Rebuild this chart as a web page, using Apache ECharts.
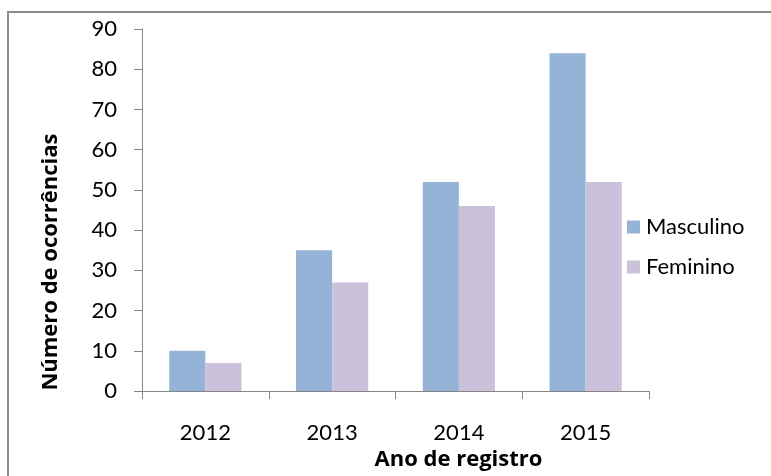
<!DOCTYPE html>
<html>
<head>
<meta charset="utf-8">
<script src="https://cdn.jsdelivr.net/npm/echarts@6/dist/echarts.min.js"></script>
<style>
  html, body { margin: 0; padding: 0; background: #fff; }
  #chart { width: 771px; height: 476px; }
</style>
</head>
<body>
<div id="chart"></div>
<script>
// Ocorrências registradas por ano, separadas por sexo
const anos = ['2012', '2013', '2014', '2015'];
const masculino = [10, 35, 52, 84];
const feminino = [7, 27, 46, 52];
const yTicks = { min: 0, max: 90, interval: 10 };

const fonte = 'Lato, "Open Sans", "Liberation Sans", sans-serif';
const fonteTitulo = '"Open Sans", Lato, "Liberation Sans", sans-serif';
const cinza = '#868686';

const chart = echarts.init(document.getElementById('chart'), null, { renderer: 'canvas' });

chart.setOption({
  animation: false,
  backgroundColor: '#fff',
  textStyle: { fontFamily: fonte, color: '#000' },
  graphic: [{
    type: 'rect',
    shape: { x: 8, y: 12, width: 900, height: 600 },
    style: { fill: 'none', stroke: '#8c8c8c', lineWidth: 2 },
    silent: true
  }],
  grid: { left: 142, top: 29, right: 122, bottom: 79, containLabel: false },
  legend: {
    orient: 'vertical',
    left: 622,
    top: 211,
    itemWidth: 13,
    itemHeight: 13,
    itemGap: 18,
    icon: 'rect',
    textStyle: { fontFamily: fonte, fontSize: 22, color: '#000', padding: [0, 0, 0, 1] },
    data: ['Masculino', 'Feminino']
  },
  xAxis: {
    type: 'category',
    data: anos,
    name: 'Ano de registro',
    nameLocation: 'middle',
    nameGap: 52,
    nameTextStyle: { fontFamily: fonteTitulo, fontSize: 22, fontWeight: 'bold', color: '#000', padding: [0, 0, 0, 126] },
    axisLine: { lineStyle: { color: cinza, width: 1 } },
    axisTick: { show: true, length: 8, lineStyle: { color: cinza } },
    axisLabel: { fontFamily: fonte, fontSize: 22, color: '#000', margin: 31 }
  },
  yAxis: {
    type: 'value',
    min: yTicks.min,
    max: yTicks.max,
    interval: yTicks.interval,
    name: 'Número de ocorrências',
    nameLocation: 'middle',
    nameGap: 80,
    nameTextStyle: { fontFamily: fonteTitulo, fontSize: 22, fontWeight: 'bold', color: '#000', padding: [0, 104, 0, 0] },
    axisLine: { show: true, lineStyle: { color: cinza, width: 1 } },
    axisTick: { show: true, length: 8, lineStyle: { color: cinza } },
    axisLabel: { fontFamily: fonte, fontSize: 22, color: '#000', margin: 25 },
    splitLine: { show: false }
  },
  series: [
    {
      name: 'Masculino',
      type: 'bar',
      data: masculino,
      barGap: '0%',
      barCategoryGap: '43%',
      itemStyle: { color: '#95B3D7' }
    },
    {
      name: 'Feminino',
      type: 'bar',
      data: feminino,
      barGap: '0%',
      barCategoryGap: '43%',
      itemStyle: { color: '#CCC1DA' }
    }
  ]
});
</script>
</body>
</html>
